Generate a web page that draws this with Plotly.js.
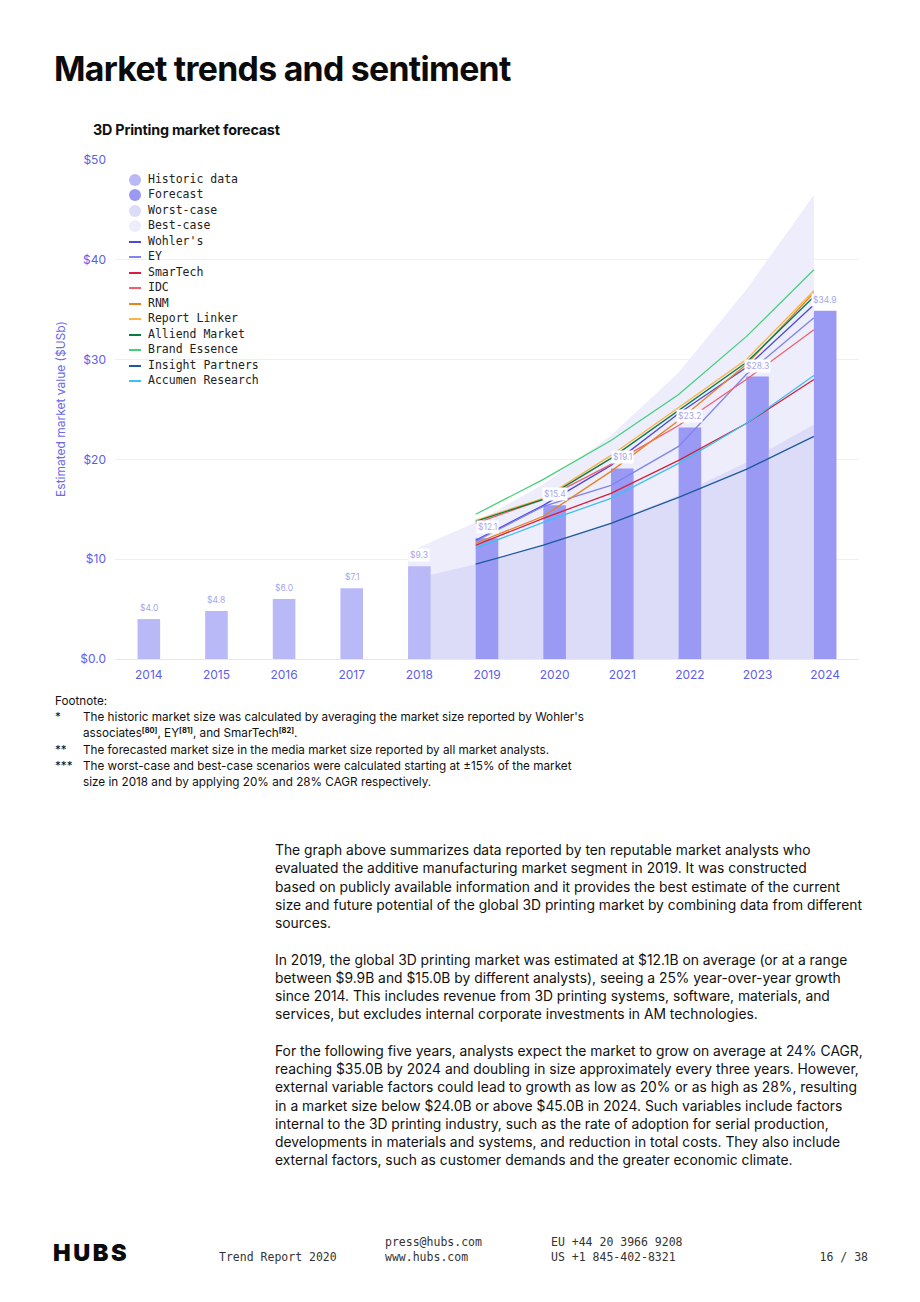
<!DOCTYPE html>
<html>
<head>
<meta charset="utf-8">
<script src="https://cdn.plot.ly/plotly-3.0.1.min.js"></script>
<style>
  html, body { margin:0; padding:0; background:#fff; }
  body { width:920px; height:1302px; position:relative; overflow:hidden; font-family:Inter, 'Liberation Sans', sans-serif; color:#111; }
  #chart { position:absolute; left:0; top:0; width:920px; height:700px; }
  .t { position:absolute; white-space:nowrap; }
  #pageTitle { left:54px; top:49px; font-family:Inter, sans-serif; font-weight:700; font-size:33.8px; line-height:40px; letter-spacing:-0.7px; color:#0b0b0b; }
  #chartTitle { left:93px; top:121px; font-family:Inter, sans-serif; font-weight:700; font-size:14.3px; line-height:18px; letter-spacing:-0.2px; color:#111; }
  #legend { position:absolute; left:124px; top:172px; font-family:'DejaVu Sans Mono', monospace; font-size:11.5px; color:#222; }
  .li { position:absolute; left:0; height:15px; line-height:15px; white-space:nowrap; }
  .dot { position:absolute; left:5px; top:1.5px; width:12px; height:12px; border-radius:50%; }
  .ln { position:absolute; left:5px; top:7px; width:12px; height:2px; }
  .lt { position:absolute; left:24px; top:0; }
  #footnote { left:55px; top:693px; font-size:11.73px; line-height:16.2px; color:#111; }
  #footnote .row { position:relative; height:16.2px; }
  #footnote .mk { position:absolute; left:0; }
  #footnote .tx { position:absolute; left:28px; }
  #footnote sup { font-size:7.5px; font-weight:700; vertical-align:4px; line-height:0; }
  #body { left:275px; top:841px; font-size:13.85px; line-height:18.25px; color:#111; }
  #body .gap { height:18.25px; }
  .mono { font-family:'DejaVu Sans Mono', monospace; font-size:11.5px; color:#333; line-height:15px; }
  #logo { left:53px; top:1241px; font-family:Inter, sans-serif; font-weight:900; font-size:23.5px; line-height:24px; letter-spacing:2.6px; color:#0b0b0b; }
</style>
</head>
<body>
<div id="chart"></div>
<div id="pageTitle" class="t">Market trends and sentiment</div>
<div id="chartTitle" class="t">3D Printing market forecast</div>
<div id="legend"></div>
<div id="footnote" class="t"></div>
<div id="body" class="t"></div>
<div id="logo" class="t">HUBS</div>
<div class="t mono" style="left:219px; top:1250px;">Trend Report 2020</div>
<div class="t mono" style="left:385px; top:1235px;">press@hubs.com<br>www.hubs.com</div>
<div class="t mono" style="left:551px; top:1235px;">EU +44 20 3966 9208<br>US +1 845-402-8321</div>
<div class="t mono" style="right:52px; top:1250px;">16 / 38</div>
<script>
// ---------------- DATA ----------------
const years = [2014, 2015, 2016, 2017, 2018, 2019, 2020, 2021, 2022, 2023, 2024];
const xTickLabels = ['2014', '2015', '2016', '2017', '2018', '2019', '2020', '2021', '2022', '2023', '2024'];
const yTickValues = [0, 10, 20, 30, 40, 50];
const yTickLabels = ['$0.0', '$10', '$20', '$30', '$40', '$50'];

const historicYears = [2014, 2015, 2016, 2017, 2018];
const historicValues = [4.0, 4.8, 6.0, 7.1, 9.3];
const forecastYears = [2019, 2020, 2021, 2022, 2023, 2024];
const forecastValues = [12.1, 15.4, 19.1, 23.2, 28.3, 34.9];

const scenarioYears = [2018, 2019, 2020, 2021, 2022, 2023, 2024];
const worstCase = [7.9, 9.5, 11.4, 13.7, 16.4, 19.7, 23.5];
const bestCase = [10.7, 13.7, 17.5, 22.4, 28.7, 37.0, 46.5];

const analystYears = [2019, 2020, 2021, 2022, 2023, 2024];
const analystNames = ["Wohler's", 'EY', 'SmarTech', 'IDC', 'RNM', 'Report Linker', 'Alliend Market', 'Brand Essence', 'Insight Partners', 'Accumen Research'];
const wohlers         = [11.9, 15.4, 19.4, 24.6, 29.2, 35.5];
const ey              = [11.8, 15.3, 17.4, 21.3, 28.5, 34.2];
const smartech        = [11.4, 14.1, 16.6, 19.9, 23.6, 28.0];
const idc             = [13.6, 16.0, 19.5, 23.4, 28.0, 33.0];
const rnm             = [11.6, 14.3, 18.8, 23.9, 29.5, 36.7];
const reportLinker    = [13.9, 16.1, 20.4, 25.2, 30.0, 36.9];
const alliendMarket   = [13.8, 16.0, 20.1, 24.9, 29.7, 36.3];
const brandEssence    = [14.5, 18.0, 21.9, 26.5, 32.3, 39.0];
const insightPartners = [9.5, 11.4, 13.6, 16.2, 19.0, 22.3];
const accumenResearch = [11.1, 13.7, 16.1, 19.6, 23.6, 28.4];
const analystSeries = [wohlers, ey, smartech, idc, rnm, reportLinker, alliendMarket, brandEssence, insightPartners, accumenResearch];

const barNames = ['Historic data', 'Forecast'];
const scenarioNames = ['Worst-case', 'Best-case'];

// ---------------- STYLE ----------------
const analystColors = ['#4a4ad8', '#8282f0', '#d51f3c', '#f0606c', '#e8821e', '#f8b444', '#0c7a44', '#46d07c', '#1c5a9c', '#3ec0f0'];
const historicColor = '#b9b9f8';
const forecastColor = '#9a9af5';
const worstColor = '#dcdcf9';
const bestColor = '#ededfc';
const axisColor = '#5e5ee8';
const labelColor = '#a6a6f2';
const BAR_WIDTH = 0.334;
const LINE_OFFSET = -BAR_WIDTH / 2;

const shift = arr => arr.map(v => v + LINE_OFFSET);

const traces = [];
traces.push({ type: 'scatter', mode: 'lines', name: scenarioNames[1], x: shift(scenarioYears), y: bestCase,
  fill: 'tozeroy', fillcolor: bestColor, line: { width: 0, color: bestColor }, xaxis: 'x', yaxis: 'y', showlegend: false, hoverinfo: 'skip' });
traces.push({ type: 'scatter', mode: 'lines', name: scenarioNames[0], x: shift(scenarioYears), y: worstCase,
  fill: 'tozeroy', fillcolor: worstColor, line: { width: 0, color: worstColor }, xaxis: 'x', yaxis: 'y', showlegend: false, hoverinfo: 'skip' });
traces.push({ type: 'bar', name: barNames[0], x: historicYears, y: historicValues, width: BAR_WIDTH,
  marker: { color: historicColor, line: { width: 0 } }, xaxis: 'x2', yaxis: 'y2', showlegend: false });
traces.push({ type: 'bar', name: barNames[1], x: forecastYears, y: forecastValues, width: BAR_WIDTH,
  marker: { color: forecastColor, line: { width: 0 } }, xaxis: 'x2', yaxis: 'y2', showlegend: false });
analystSeries.forEach((vals, i) => {
  traces.push({ type: 'scatter', mode: 'lines', name: analystNames[i], x: shift(analystYears), y: vals,
    line: { color: analystColors[i], width: 1.3, shape: 'linear' }, xaxis: 'x2', yaxis: 'y2', showlegend: false });
});

const annotations = [];
const allBarYears = historicYears.concat(forecastYears);
const allBarValues = historicValues.concat(forecastValues);
allBarYears.forEach((yr, i) => {
  const v = allBarValues[i];
  annotations.push({ x: yr, y: v, xref: 'x2', yref: 'y2', text: '$' + v.toFixed(1), showarrow: false,
    yanchor: 'bottom', yshift: 4, bgcolor: '#ffffff', borderpad: 1,
    font: { family: 'Inter, sans-serif', size: 8.5, color: labelColor } });
});

const xRange = [2013.5, 2024.5];
const yRange = [0, 50.1];
const layout = {
  width: 920, height: 700,
  margin: { l: 115, r: 61, t: 159, b: 41 },
  paper_bgcolor: 'rgba(0,0,0,0)', plot_bgcolor: '#ffffff',
  showlegend: false,
  barmode: 'overlay',
  font: { family: 'Inter, sans-serif', color: axisColor },
  xaxis: { range: xRange, tickmode: 'array', tickvals: years, ticktext: xTickLabels, showgrid: false,
    showline: true, linecolor: '#e6e6f7', linewidth: 1, zeroline: false, ticks: '', ticklabelstandoff: 5,
    tickfont: { family: 'Inter, sans-serif', size: 12, color: axisColor }, fixedrange: true },
  yaxis: { range: yRange, tickmode: 'array', tickvals: yTickValues, ticktext: yTickLabels,
    showgrid: true, gridcolor: '#eeeef9', gridwidth: 1, zeroline: false, showline: false, ticks: '', ticklabelstandoff: 8,
    tickfont: { family: 'Inter, sans-serif', size: 12, color: axisColor }, fixedrange: true,
    title: { text: 'Estimated market value ($USb)', font: { family: 'Inter, sans-serif', size: 12, color: '#6a6aea' }, standoff: 12 } },
  xaxis2: { overlaying: 'x', range: xRange, visible: false, fixedrange: true },
  yaxis2: { overlaying: 'y', range: yRange, visible: false, fixedrange: true },
  annotations: annotations
};

Plotly.newPlot('chart', traces, layout, { displayModeBar: false, staticPlot: true });

// ---------------- LEGEND (HTML) ----------------
const legendItems = [
  { name: barNames[0], kind: 'dot', color: historicColor },
  { name: barNames[1], kind: 'dot', color: forecastColor },
  { name: scenarioNames[0], kind: 'dot', color: worstColor },
  { name: scenarioNames[1], kind: 'dot', color: bestColor }
].concat(analystNames.map((n, i) => ({ name: n, kind: 'line', color: analystColors[i] })));
const legendEl = document.getElementById('legend');
legendItems.forEach((it, i) => {
  const row = document.createElement('div');
  row.className = 'li';
  row.style.top = Math.round(i * 15.46) + 'px';
  const s = document.createElement('span');
  s.className = it.kind === 'dot' ? 'dot' : 'ln';
  s.style.background = it.color;
  const t = document.createElement('span');
  t.className = 'lt';
  t.textContent = it.name;
  row.appendChild(s); row.appendChild(t);
  legendEl.appendChild(row);
});

// ---------------- FOOTNOTE ----------------
const footnoteRows = [
  ['', 'Footnote:', true],
  ['*', "The historic market size was calculated by averaging the market size reported by Wohler's"],
  ['', "associates<sup>[80]</sup>, EY<sup>[81]</sup>, and SmarTech<sup>[82]</sup>."],
  ['**', 'The forecasted market size in the media market size reported by all market analysts.'],
  ['***', 'The worst-case and best-case scenarios were calculated starting at ±15% of the market'],
  ['', 'size in 2018 and by applying 20% and 28% CAGR respectively.']
];
const fn = document.getElementById('footnote');
footnoteRows.forEach(r => {
  const row = document.createElement('div');
  row.className = 'row';
  if (r[2]) { row.innerHTML = '<span class="mk">' + r[1] + '</span>'; }
  else { row.innerHTML = '<span class="mk">' + r[0] + '</span><span class="tx">' + r[1] + '</span>'; }
  fn.appendChild(row);
});

// ---------------- BODY TEXT ----------------
const bodyParagraphs = [
  ['The graph above summarizes data reported by ten reputable market analysts who',
   'evaluated the additive manufacturing market segment in 2019. It was constructed',
   'based on publicly available information and it provides the best estimate of the current',
   'size and future potential of the global 3D printing market by combining data from different',
   'sources.'],
  ['In 2019, the global 3D printing market was estimated at $12.1B on average (or at a range',
   'between $9.9B and $15.0B by different analysts), seeing a 25% year-over-year growth',
   'since 2014. This includes revenue from 3D printing systems, software, materials, and',
   'services, but excludes internal corporate investments in AM technologies.'],
  ['For the following five years, analysts expect the market to grow on average at 24% CAGR,',
   'reaching $35.0B by 2024 and doubling in size approximately every three years. However,',
   'external variable factors could lead to growth as low as 20% or as high as 28%, resulting',
   'in a market size below $24.0B or above $45.0B in 2024. Such variables include factors',
   'internal to the 3D printing industry, such as the rate of adoption for serial production,',
   'developments in materials and systems, and reduction in total costs. They also include',
   'external factors, such as customer demands and the greater economic climate.']
];
const bodyEl = document.getElementById('body');
bodyParagraphs.forEach((p, pi) => {
  if (pi > 0) { const g = document.createElement('div'); g.className = 'gap'; bodyEl.appendChild(g); }
  p.forEach(line => { const d = document.createElement('div'); d.textContent = line; bodyEl.appendChild(d); });
});
</script>
</body>
</html>
